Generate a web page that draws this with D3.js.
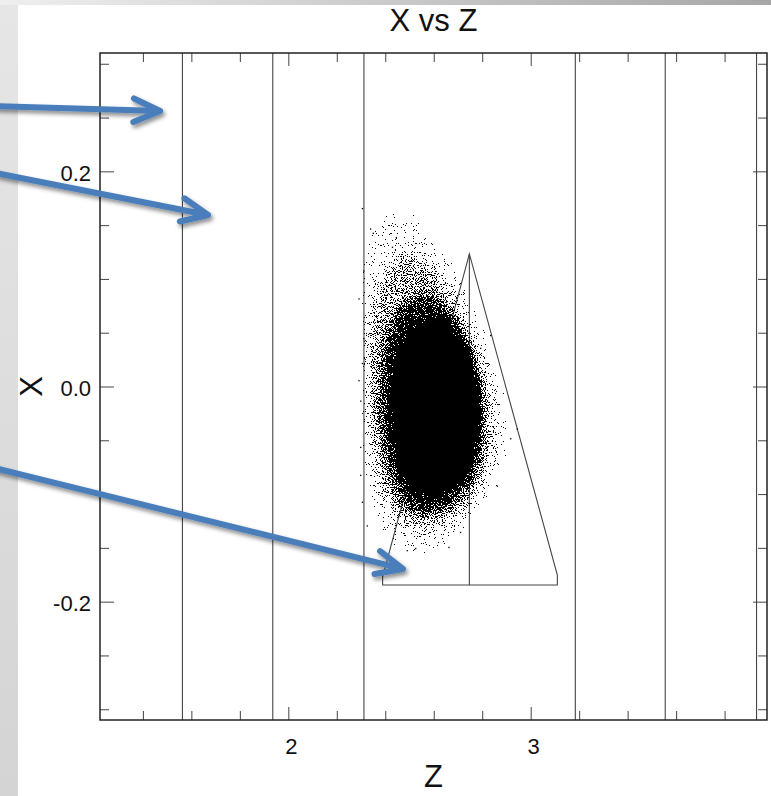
<!DOCTYPE html>
<html>
<head>
<meta charset="utf-8">
<script src="https://cdn.jsdelivr.net/npm/d3@7"></script>
<style>
  body { margin: 0; background: #fff; }
  text { font-family: "Liberation Sans", Arial, sans-serif; fill: #111; }
</style>
</head>
<body>
<svg id="chart" width="771" height="796"></svg>
<script>
// Axis ranges and ticks
var z_domain = [1.223, 3.975];
var x_domain = [-0.31, 0.31];
var z_major = [2, 3];
var z_minor = [1.4, 1.6, 1.8, 2.2, 2.4, 2.6, 2.8, 3.2, 3.4, 3.6, 3.8];
var x_major = [-0.2, 0.0, 0.2];
var x_minor = [-0.3, -0.25, -0.15, -0.1, -0.05, 0.05, 0.1, 0.15, 0.25, 0.3];

// Vertical boundary lines (Z)
var boundaries = [1.563, 1.936, 2.312, 3.184, 3.555, 3.932];

// Triangle outline [z, x] and its middle line
var triangle = [[2.389, -0.1845], [2.389, -0.1771], [2.747, 0.1232], [3.110, -0.1752], [3.110, -0.1845]];
var triangle_mid = [[2.747, 0.1232], [2.747, -0.1845]];

// Point cloud density contours [z, x], outer (sparse) to core (solid)
var cloud_outer = [[2.440, 0.166], [2.543, 0.159], [2.626, 0.136], [2.729, 0.108], [2.832, 0.053], [2.894, 0.006],
  [2.923, -0.040], [2.894, -0.087], [2.791, -0.124], [2.688, -0.150], [2.543, -0.161], [2.440, -0.157],
  [2.358, -0.133], [2.308, -0.087], [2.288, -0.031], [2.288, 0.043], [2.296, 0.118], [2.337, 0.150]];
var cloud_mid = [[2.481, 0.122], [2.564, 0.116], [2.646, 0.094], [2.729, 0.062], [2.791, 0.025], [2.832, -0.013],
  [2.840, -0.050], [2.799, -0.087], [2.717, -0.115], [2.605, -0.131], [2.502, -0.129], [2.420, -0.110],
  [2.366, -0.078], [2.337, -0.031], [2.329, 0.025], [2.345, 0.071], [2.399, 0.104]];
var cloud_inner = [[2.564, 0.085], [2.646, 0.073], [2.729, 0.043], [2.783, 0.006], [2.799, -0.031], [2.783, -0.068],
  [2.729, -0.096], [2.646, -0.113], [2.543, -0.117], [2.461, -0.101], [2.411, -0.068], [2.387, -0.031],
  [2.387, 0.015], [2.420, 0.053], [2.481, 0.076]];
var cloud_core = [[2.613, 0.060], [2.675, 0.051], [2.733, 0.029], [2.766, -0.003], [2.770, -0.040], [2.741, -0.068],
  [2.688, -0.085], [2.618, -0.096], [2.543, -0.094], [2.494, -0.079], [2.465, -0.059], [2.453, -0.031],
  [2.453, 0.001], [2.473, 0.029], [2.531, 0.050]];

// Stray points outside the cloud [z, x]
var outliers = [[2.303, 0.166], [2.337, 0.147], [2.348, 0.143], [2.443, 0.139], [2.427, 0.130], [2.309, 0.108],
  [2.289, 0.082], [2.309, 0.045], [2.303, 0.022], [2.289, 0.006], [2.832, 0.048], [2.791, 0.036],
  [2.296, -0.013], [2.296, -0.056], [2.296, -0.082], [2.303, -0.107], [2.323, -0.129], [2.523, -0.150],
  [2.488, -0.152], [2.660, -0.149], [2.915, -0.048], [2.942, -0.039], [2.860, -0.092], [2.708, -0.135]];

// Annotation arrows (start / tip), in [z, x]
var arrow_from = [[0.77, 0.2607], [0.77, 0.1994], [0.77, -0.0748]];
var arrow_to = [[1.471, 0.2561], [1.669, 0.1594], [2.473, -0.1696]];

var svg = d3.select("#chart");
var width = 771, height = 796;
var margin = {left: 100, top: 53, right: 4, bottom: 76};

var z = d3.scaleLinear().domain(z_domain).range([margin.left, width - margin.right]);
var x = d3.scaleLinear().domain(x_domain).range([height - margin.bottom, margin.top]);

var defs = svg.append("defs");

// Slide background
var bg = defs.append("linearGradient").attr("id", "bgTop").attr("x1", 0).attr("x2", 1).attr("y1", 0).attr("y2", 0);
bg.append("stop").attr("offset", 0).attr("stop-color", "#efefef");
bg.append("stop").attr("offset", 1).attr("stop-color", "#a6a6a6");
var bgl = defs.append("linearGradient").attr("id", "bgLeft").attr("x1", 0).attr("x2", 0).attr("y1", 0).attr("y2", 1);
bgl.append("stop").attr("offset", 0).attr("stop-color", "#e6e6e6");
bgl.append("stop").attr("offset", 1).attr("stop-color", "#d4d4d4");

svg.append("rect").attr("width", width).attr("height", height).attr("fill", "url(#bgTop)");
svg.append("rect").attr("x", 0).attr("y", 5).attr("width", 18).attr("height", height - 5).attr("fill", "url(#bgLeft)");
svg.append("rect").attr("x", 18).attr("y", 5).attr("width", width - 18).attr("height", height - 5).attr("fill", "#fff");

// Title and axis titles
svg.append("text").attr("x", (margin.left + width - margin.right) / 2).attr("y", 31)
  .attr("text-anchor", "middle").attr("font-size", 31).text("X vs Z");
svg.append("text").attr("x", (margin.left + width - margin.right) / 2).attr("y", 787)
  .attr("text-anchor", "middle").attr("font-size", 31).text("Z");
svg.append("text").attr("transform", "translate(42," + ((margin.top + height - margin.bottom) / 2) + ") rotate(-90)")
  .attr("text-anchor", "middle").attr("font-size", 31).text("X");

// Boundary lines
svg.append("g").selectAll("line").data(boundaries).enter().append("line")
  .attr("x1", function(d) { return z(d); }).attr("x2", function(d) { return z(d); })
  .attr("y1", margin.top).attr("y2", height - margin.bottom)
  .attr("stroke", "#333").attr("stroke-width", 1);

// Triangle
var line = d3.line().x(function(d) { return z(d[0]); }).y(function(d) { return x(d[1]); });
svg.append("path").attr("d", line(triangle) + "Z").attr("fill", "none").attr("stroke", "#444").attr("stroke-width", 1.1);
svg.append("path").attr("d", line(triangle_mid)).attr("fill", "none").attr("stroke", "#444").attr("stroke-width", 1.1);

// Point cloud: density contours turned into speckles with a noise threshold filter
var zs = cloud_outer.map(function(d) { return z(d[0]); });
var xs = cloud_outer.map(function(d) { return x(d[1]); });
var bx = d3.min(zs) - 25, by = d3.min(xs) - 25;
var bw = d3.max(zs) - bx + 25, bh = d3.max(xs) - by + 25;

var f = defs.append("filter").attr("id", "speckle").attr("filterUnits", "userSpaceOnUse")
  .attr("x", bx).attr("y", by).attr("width", bw).attr("height", bh)
  .attr("color-interpolation-filters", "sRGB");
f.append("feGaussianBlur").attr("in", "SourceGraphic").attr("stdDeviation", 6).attr("result", "blur");
f.append("feColorMatrix").attr("in", "blur").attr("type", "matrix")
  .attr("values", "0 0 0 0 0  0 0 0 0 0  0 0 0 0 0  1 0 0 0 0").attr("result", "dens");
f.append("feTurbulence").attr("type", "fractalNoise").attr("baseFrequency", 0.9).attr("numOctaves", 1)
  .attr("seed", 7).attr("result", "noise");
f.append("feColorMatrix").attr("in", "noise").attr("type", "matrix")
  .attr("values", "0 0 0 0 0  0 0 0 0 0  0 0 0 0 0  1 0 0 0 0").attr("result", "nA");
f.append("feComposite").attr("in", "dens").attr("in2", "nA").attr("operator", "arithmetic")
  .attr("k1", 0).attr("k2", 10).attr("k3", -10).attr("k4", 0.5).attr("result", "diff");
f.append("feComponentTransfer").attr("in", "diff").attr("result", "dots")
  .append("feFuncA").attr("type", "discrete").attr("tableValues", "0 1");
f.append("feColorMatrix").attr("in", "dots").attr("type", "matrix")
  .attr("values", "0 0 0 0 0  0 0 0 0 0  0 0 0 0 0  0 0 0 1 0");

var cloud = svg.append("g").attr("filter", "url(#speckle)");
cloud.append("rect").attr("x", bx).attr("y", by).attr("width", bw).attr("height", bh).attr("fill", "#000");
var contour = d3.line().x(function(d) { return z(d[0]); }).y(function(d) { return x(d[1]); })
  .curve(d3.curveCardinalClosed.tension(0.2));
var layers = [cloud_outer, cloud_mid, cloud_inner, cloud_core];
var tones = ["#535353", "#757575", "#a2a2a2", "#fff"];
cloud.selectAll("path").data(layers).enter().append("path")
  .attr("d", function(d) { return contour(d); })
  .attr("fill", function(d, i) { return tones[i]; });

svg.append("g").selectAll("rect").data(outliers).enter().append("rect")
  .attr("x", function(d) { return z(d[0]); }).attr("y", function(d) { return x(d[1]); })
  .attr("width", 1.3).attr("height", 1.3).attr("fill", "#000");

// Axes: major and minor ticks on all four sides
function style_axis(g) {
  g.select(".domain").remove();
  g.selectAll(".tick line").attr("stroke", "#444");
  g.attr("font-family", "Liberation Sans, Arial, sans-serif").attr("font-size", 22);
  g.selectAll(".tick text").attr("fill", "#111");
}
var fmt1 = function(d) { return d.toFixed(1); };
var bottom = height - margin.bottom, right = width - margin.right;

svg.append("g").attr("transform", "translate(0," + bottom + ")")
  .call(d3.axisBottom(z).tickValues(z_major).tickSize(-13).tickSizeOuter(0).tickPadding(18).tickFormat(d3.format("d")))
  .call(style_axis).selectAll(".tick text").attr("x", 2.5);
svg.append("g").attr("transform", "translate(0," + bottom + ")")
  .call(d3.axisBottom(z).tickValues(z_minor).tickSize(-9).tickSizeOuter(0).tickFormat(""))
  .call(style_axis);
svg.append("g").attr("transform", "translate(0," + margin.top + ")")
  .call(d3.axisTop(z).tickValues(z_major).tickSize(-13).tickSizeOuter(0).tickFormat(""))
  .call(style_axis);
svg.append("g").attr("transform", "translate(0," + margin.top + ")")
  .call(d3.axisTop(z).tickValues(z_minor).tickSize(-9).tickSizeOuter(0).tickFormat(""))
  .call(style_axis);

svg.append("g").attr("transform", "translate(" + margin.left + ",0)")
  .call(d3.axisLeft(x).tickValues(x_major).tickSize(-14).tickSizeOuter(0).tickPadding(9).tickFormat(fmt1))
  .call(style_axis).selectAll(".tick text").attr("dy", "0.42em");
svg.append("g").attr("transform", "translate(" + margin.left + ",0)")
  .call(d3.axisLeft(x).tickValues(x_minor).tickSize(-9).tickSizeOuter(0).tickFormat(""))
  .call(style_axis);
svg.append("g").attr("transform", "translate(" + right + ",0)")
  .call(d3.axisRight(x).tickValues(x_major).tickSize(-14).tickSizeOuter(0).tickFormat(""))
  .call(style_axis);
svg.append("g").attr("transform", "translate(" + right + ",0)")
  .call(d3.axisRight(x).tickValues(x_minor).tickSize(-9).tickSizeOuter(0).tickFormat(""))
  .call(style_axis);

// Plot frame
svg.append("rect").attr("x", margin.left).attr("y", margin.top)
  .attr("width", right - margin.left).attr("height", bottom - margin.top)
  .attr("fill", "none").attr("stroke", "#222").attr("stroke-width", 1.5);

// Annotation arrows with a soft shadow
var sh = defs.append("filter").attr("id", "shadow").attr("x", "-20%").attr("y", "-50%").attr("width", "140%").attr("height", "200%");
sh.append("feDropShadow").attr("dx", 2).attr("dy", 3).attr("stdDeviation", 2)
  .attr("flood-color", "#000").attr("flood-opacity", 0.45);

var head_len = 29, head_angle = 24 * Math.PI / 180;
svg.append("g").attr("filter", "url(#shadow)").selectAll("path").data(arrow_to).enter().append("path")
  .attr("d", function(d, i) {
    var x0 = z(arrow_from[i][0]), y0 = x(arrow_from[i][1]);
    var x1 = z(d[0]), y1 = x(d[1]);
    var a = Math.atan2(y1 - y0, x1 - x0);
    var w1 = [x1 - head_len * Math.cos(a - head_angle), y1 - head_len * Math.sin(a - head_angle)];
    var w2 = [x1 - head_len * Math.cos(a + head_angle), y1 - head_len * Math.sin(a + head_angle)];
    return "M" + x0 + "," + y0 + " L" + x1 + "," + y1 +
           " M" + w1[0] + "," + w1[1] + " L" + x1 + "," + y1 + " L" + w2[0] + "," + w2[1];
  })
  .attr("fill", "none").attr("stroke", "#4a7ebb").attr("stroke-width", 6)
  .attr("stroke-linecap", "round").attr("stroke-linejoin", "round");
</script>
</body>
</html>
